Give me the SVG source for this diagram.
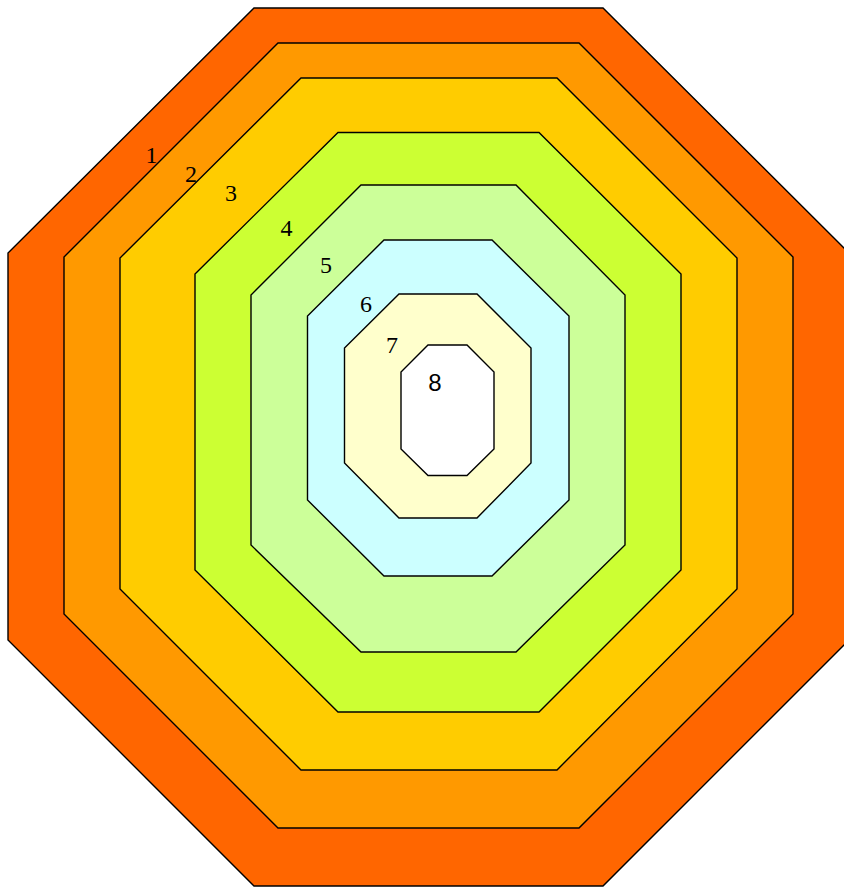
<svg xmlns="http://www.w3.org/2000/svg" width="844" height="887" viewBox="0 0 844 887">
<style>
  .ring { stroke: #000; stroke-width: 1.4; stroke-linejoin: miter; }
  .lbl { font-family: "Liberation Serif", "Times New Roman", serif; font-size: 24px; fill: #000; text-anchor: middle; }
  .lbl8 { font-family: "Liberation Sans", Arial, sans-serif; font-size: 24px; fill: #000; text-anchor: middle; }
</style>
<rect width="844" height="887" fill="#fff"/>
<g id="ring1"><polygon class="ring" fill="#FF6600" points="254,8 603,8 849,253 849,640 603,886 254,886 8,640 8,253"/></g>
<g id="ring2"><polygon class="ring" fill="#FF9900" points="278,43 579,43 793,257 793,614 579,828 278,828 64,614 64,257"/></g>
<g id="ring3"><polygon class="ring" fill="#FFCC00" points="301,78 557,78 737,258 737,589 557,770 301,770 120,589 120,258"/></g>
<g id="ring4"><polygon class="ring" fill="#CCFF33" points="338,132.5 539,132.5 681,274 681,570 539,712 338,712 195,570 195,274"/></g>
<g id="ring5"><polygon class="ring" fill="#CCFF99" points="361,185 516,185 625,295 625,545 516,652 361,652 251,545 251,295"/></g>
<g id="ring6"><polygon class="ring" fill="#CCFFFF" points="384,240 492,240 569,316 569,500 492,576 384,576 307.5,500 307.5,316"/></g>
<g id="ring7"><polygon class="ring" fill="#FFFFCC" points="399,294 477,294 531,348 531,463 477,518 399,518 344.5,463 344.5,348"/></g>
<g id="ring8"><polygon class="ring" fill="#FFFFFF" points="428,345 467,345 494,372 494,449 467,475.5 428,475.5 401,449 401,372"/></g>
<g id="labels">
  <text class="lbl" x="151.5" y="163">1</text>
  <text class="lbl" x="191" y="182">2</text>
  <text class="lbl" x="231" y="201">3</text>
  <text class="lbl" x="286.5" y="236">4</text>
  <text class="lbl" x="326" y="273">5</text>
  <text class="lbl" x="366" y="311.5">6</text>
  <text class="lbl" x="392" y="353">7</text>
  <text class="lbl8" x="435" y="391">8</text>
</g>
</svg>
